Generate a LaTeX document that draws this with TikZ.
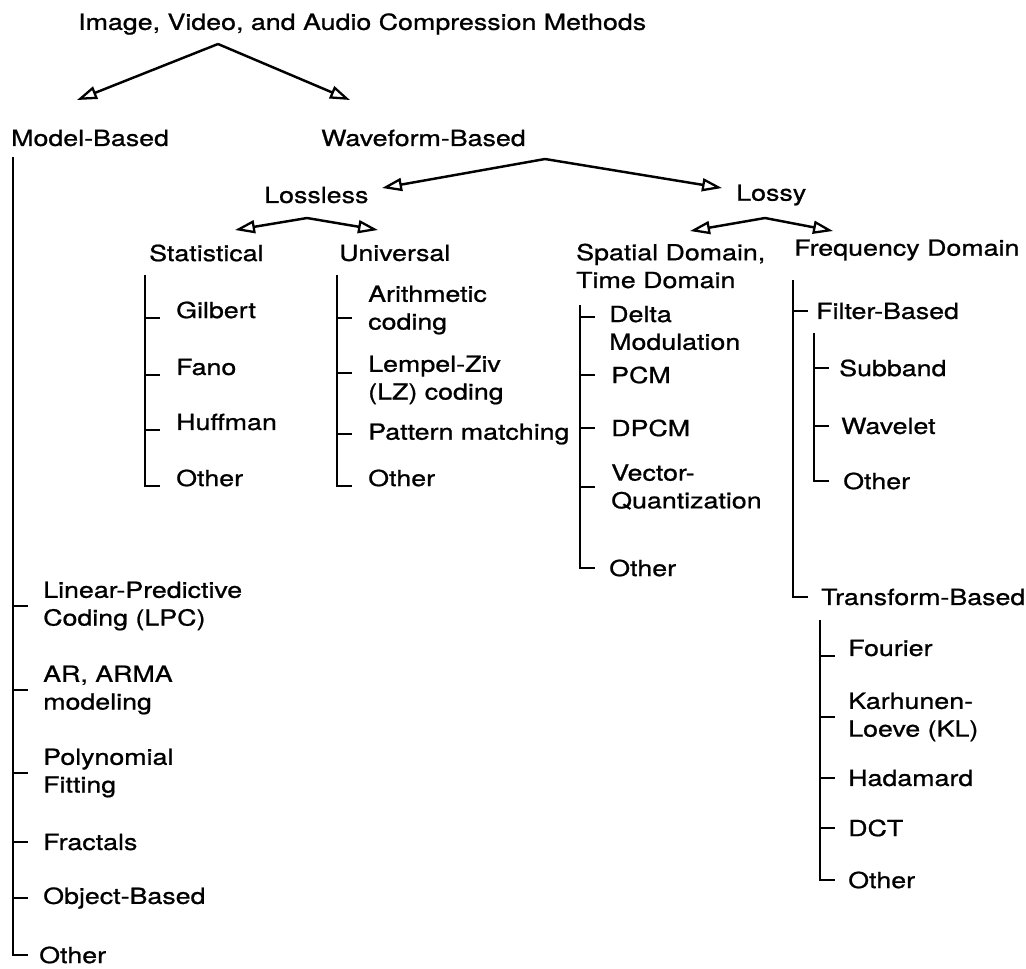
\documentclass[tikz,border=0pt]{standalone}
\usepackage{fontspec}
\setmainfont[FakeStretch=1.21, FakeBold=0.9]{TeX Gyre Heros}
\usetikzlibrary{arrows.meta, calc}

\begin{document}
\begin{tikzpicture}[x=0.02cm, y=-0.02cm, line width=1.4pt,
  every node/.style={inner sep=0pt, anchor=west, align=left,
    font=\fontsize{12.6}{15.8}\selectfont},
  tri/.style={-{Triangle[open, length=4mm, width=2.6mm, line width=1.3pt]}}]
\useasboundingbox (0,0) rectangle (1026,968);

% headings
\node (title) at (77,24) {Image, Video, and Audio Compression Methods};
\node (model) at (10,138) {Model-Based};
\node (wave) at (320,138) {Waveform-Based};
\node (lossless) at (263,195) {Lossless};
\node (lossy) at (735,195) {Lossy};
\node (stat) at (148,253) {Statistical};
\node (univ) at (338,253) {Universal};
\node (spat) at (575,266) {Spatial Domain,\\Time Domain};
\node (freq) at (793,250) {Frequency Domain};

% split arrows
\coordinate (apTop) at (218,44);
\coordinate (tipModel) at (77,100);
\coordinate (tipWave) at (350,100);
\draw[tri] (apTop) -- (tipModel);
\draw[tri] (apTop) -- (tipWave);

\coordinate (apWave) at (545,159);
\coordinate (tipLossless) at (382,188);
\coordinate (tipLossy) at (722,188);
\draw[tri] (apWave) -- (tipLossless);
\draw[tri] (apWave) -- (tipLossy);

\coordinate (apLossless) at (307,218);
\coordinate (tipStat) at (235,230);
\coordinate (tipUniv) at (378,230);
\draw[tri] (apLossless) -- (tipStat);
\draw[tri] (apLossless) -- (tipUniv);

\coordinate (apLossy) at (765,218);
\coordinate (tipSpat) at (690,231);
\coordinate (tipFreq) at (833,231);
\draw[tri] (apLossy) -- (tipSpat);
\draw[tri] (apLossy) -- (tipFreq);

% statistical
\node (gilbert) at (175,310) {Gilbert};
\node (fano) at (175,367) {Fano};
\node (huffman) at (175,422) {Huffman};
\node (sother) at (175,478) {Other};
\coordinate (sbus) at (145,275);
\foreach \n in {gilbert,fano,huffman}
  \draw (sbus |- \n.base west) -- ++(15,0);
\draw (sbus) -- (sbus |- sother.base west) -- ++(15,0);

% universal
\node (arith) at (367,310) {Arithmetic\\coding};
\node (lz) at (367,380) {Lempel-Ziv\\(LZ) coding};
\node (pattern) at (367,434) {Pattern matching};
\node (uother) at (367,478) {Other};
\coordinate (ubus) at (337,275);
\coordinate (arithT) at ([yshift=-0.16cm]arith.west);
\coordinate (lzT) at ([yshift=0.14cm]lz.west);
\foreach \n in {arithT,lzT,pattern.west}
  \draw (ubus |- \n) -- ++(15,0);
\draw (ubus) -- (ubus |- uother.base west) -- ++(15,0);

% spatial / time domain
\node (delta) at (608,328) {Delta\\Modulation};
\node (pcm) at (610,375) {PCM};
\node (dpcm) at (610,428) {DPCM};
\node (vq) at (610,487) {Vector-\\Quantization};
\node (tother) at (608,568) {Other};
\coordinate (tbus) at (580,305);
\coordinate (deltaT) at ([yshift=0.22cm]delta.west);
\foreach \n in {deltaT,pcm.west,dpcm.west,vq.west}
  \draw (tbus |- \n) -- ++(15,0);
\draw (tbus) -- (tbus |- tother.west) -- ++(15,0);

% frequency domain
\node (filter) at (815,311) {Filter-Based};
\node (transform) at (820,597) {Transform-Based};
\coordinate (fbus) at (793,280);
\draw (fbus |- filter.west) -- ++(15,0);
\draw (fbus) -- (fbus |- transform.west) -- ++(15,0);

\node (subband) at (838,368) {Subband};
\node (wavelet) at (840,426) {Wavelet};
\node (fother) at (842,481) {Other};
\coordinate (fbbus) at (814,333);
\foreach \n in {subband,wavelet}
  \draw (fbbus |- \n.west) -- ++(15,0);
\draw (fbbus) -- (fbbus |- fother.west) -- ++(15,0);

\node (fourier) at (847,648) {Fourier};
\node (kl) at (847,717) {Karhunen-\\Loeve (KL)};
\node (hadamard) at (847,778) {Hadamard};
\node (dct) at (847,828) {DCT};
\node (xother) at (847,880) {Other};
\coordinate (xbus) at (820,620);
\draw (xbus |- fourier.base west) -- ++(15,0);
\foreach \n in {kl,hadamard,dct}
  \draw (xbus |- \n.west) -- ++(15,0);
\draw (xbus) -- (xbus |- xother.west) -- ++(15,0);

% model-based
\node (lpc) at (42,606) {Linear-Predictive\\Coding (LPC)};
\node (arma) at (42,690) {AR, ARMA\\modeling};
\node (poly) at (42,773) {Polynomial\\Fitting};
\node (fractals) at (42,842) {Fractals};
\node (object) at (42,898) {Object-Based};
\node (mother) at (38,955) {Other};
\coordinate (mbus) at (13,157);
\foreach \n in {lpc,arma,poly,fractals,object}
  \draw (mbus |- \n.west) -- ++(15,0);
\draw (mbus) -- (mbus |- mother.west) -- ++(15,0);
\end{tikzpicture}
\end{document}
